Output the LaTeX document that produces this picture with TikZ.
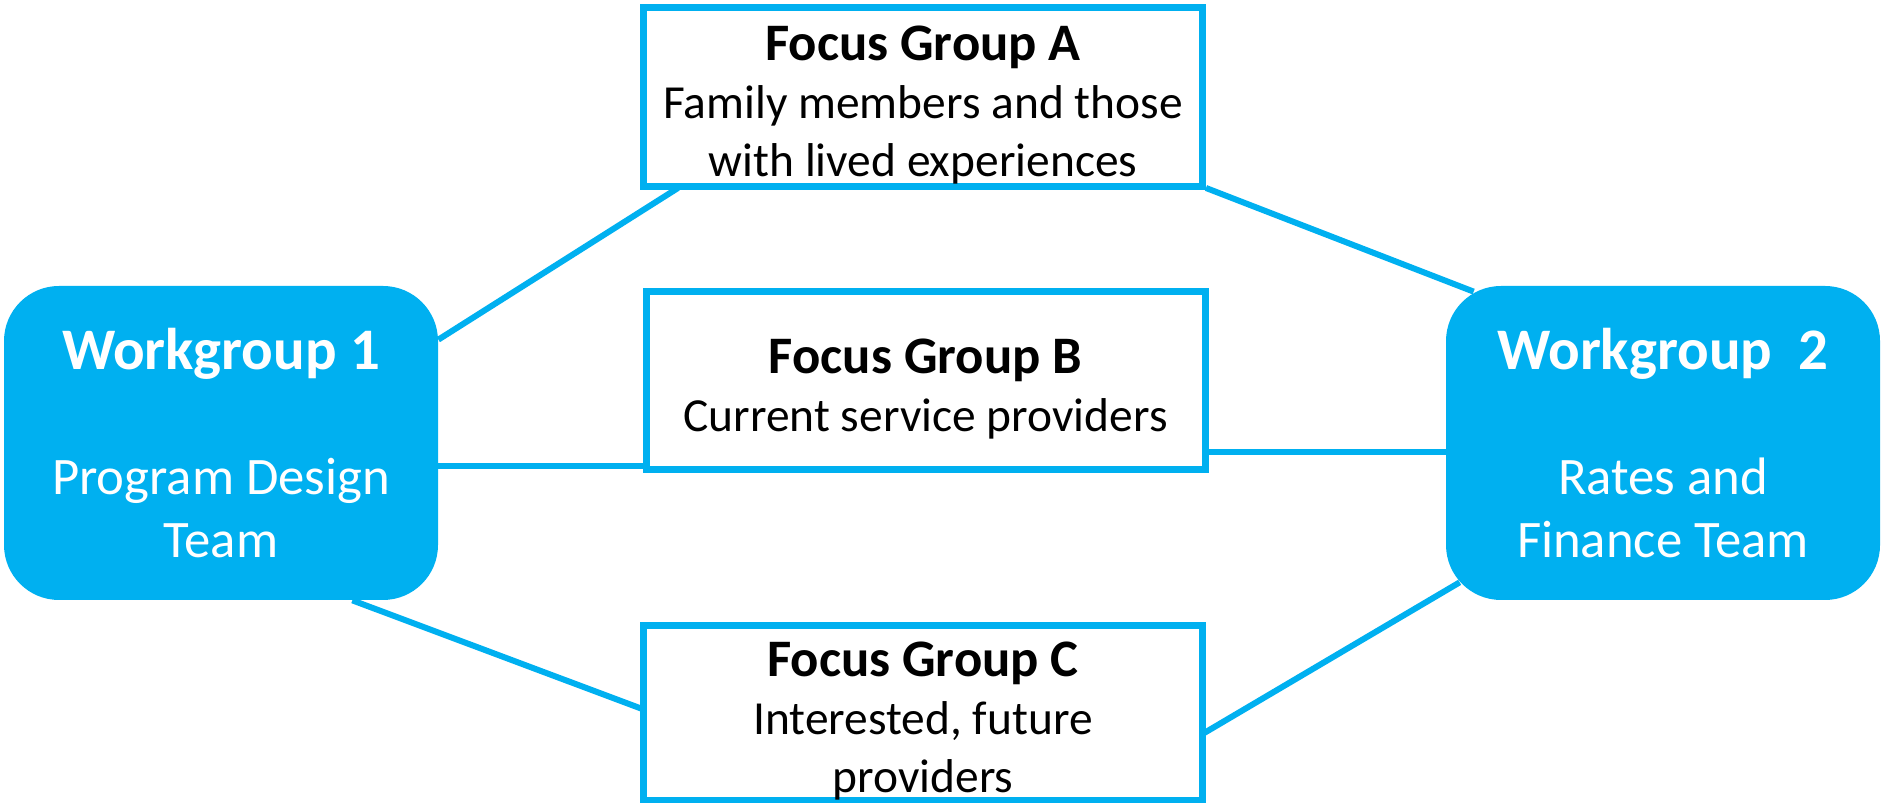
\documentclass[tikz,border=0pt]{standalone}
\usepackage{fontspec}
\setmainfont{Carlito}
\definecolor{wgblue}{RGB}{0,176,240}
\newcommand{\fgtitle}[1]{\rule{0pt}{1.02cm}{\fontsize{30}{33}\selectfont\bfseries #1}}
\newcommand{\wgtitle}[1]{{\fontsize{33.5}{40}\selectfont\bfseries #1}}

\begin{document}
\begin{tikzpicture}
\tikzset{
	workgroup/.style={fill=wgblue,
		draw=none,
		text=white,
		rounded corners=1.1cm,
		minimum width=8.68cm,
		minimum height=6.28cm,
		align=center,
		inner sep=0pt,
		font=\fontsize{30}{35.5}\selectfont
	},
	focusbox/.style={draw=wgblue,
		line width=0.14cm,
		fill=white,
		minimum width=11.18cm,
		align=center,
		inner sep=0pt,
		font=\fontsize{27}{33}\selectfont
	},
	link/.style={draw=wgblue, line width=0.12cm}
}

\useasboundingbox (0,0) rectangle (37.62,16.06);

\node[workgroup] (WG1) at (4.42,7.2) {\wgtitle{Workgroup 1}\\[1.25cm]Program Design\\Team};
\node[workgroup] (WG2) at (33.26,7.2) {\wgtitle{Workgroup \ 2}\\[1.25cm]Rates and\\Finance Team};

% links go under the focus boxes
\draw[link] ([yshift=-1.08cm]WG1.north east) -- (13.56,12.3);
\draw[link] (24.12,12.3) -- ([shift={(0.56cm,-0.12cm)}]WG2.north west);
\draw[link] ([yshift=-0.46cm]WG1.east) coordinate (L1) -- (L1 -| 13,0);
\draw[link] ([yshift=-0.18cm]WG2.west) coordinate (L2) -- (L2 -| 24,0);
\draw[link] ([xshift=-1.72cm]WG1.south east) -- (12.9,1.86);
\draw[link] (24.05,1.38) -- ([shift={(0.28cm,0.36cm)}]WG2.south west);

\node[focusbox, minimum height=3.58cm] (FGA) at (18.46,14.12) {\fgtitle{Focus Group A}\\Family members and those\\with lived experiences};
\node[focusbox, minimum height=3.56cm] (FGB) at (18.51,8.45) {\fgtitle{Focus Group B}\\Current service providers};
\node[focusbox, minimum height=3.34cm] (FGC) at (18.46,1.8) {\fgtitle{Focus Group C}\\Interested, future\\providers};
\end{tikzpicture}
\end{document}
